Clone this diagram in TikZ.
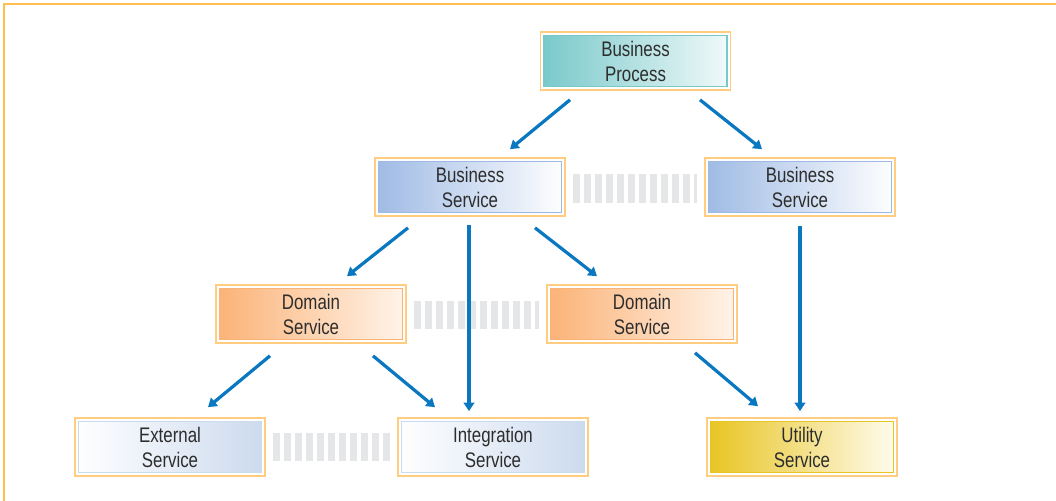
\documentclass[tikz,border=0pt]{standalone}
\usepackage{fontspec}
\setmainfont{Liberation Sans}[FakeStretch=0.8]
\usepackage{tikz}
\usetikzlibrary{arrows.meta, calc}

\definecolor{frameorange}{RGB}{255,190,80}
\definecolor{boxorange}{RGB}{255,204,128}
\definecolor{linkblue}{RGB}{10,120,192}
\definecolor{bargray}{RGB}{229,230,232}
\definecolor{txtgray}{RGB}{45,45,45}
\definecolor{procteal}{RGB}{120,200,202}
\definecolor{proclight}{RGB}{242,250,250}
\definecolor{busblue}{RGB}{158,186,228}
\definecolor{domorange}{RGB}{251,178,118}
\definecolor{domlight}{RGB}{255,244,234}
\definecolor{extblue}{RGB}{204,218,238}
\definecolor{utilyellow}{RGB}{232,196,32}
\definecolor{utillight}{RGB}{255,252,240}

\tikzset{
  svc/.style n args={3}{draw=boxorange, line width=1.2pt, fill=white,
    minimum width=47.5mm, minimum height=14.5mm, inner sep=0pt,
    align=center, text=txtgray, font=\fontsize{15}{17.8}\selectfont,
    path picture={\shadedraw[draw=#1, line width=1pt, left color=#2, right color=#3]
      ([xshift=2.6pt,yshift=-2.6pt]path picture bounding box.north west) rectangle
      ([xshift=-2.6pt,yshift=2.6pt]path picture bounding box.south east);}},
  link/.style={draw=linkblue, line width=2.3pt, -{Triangle[length=6pt,width=7.5pt]}},
  peer/.style={draw=bargray, line width=20.6pt, dash pattern=on 5pt off 2.8pt,
    shorten <=5pt, shorten >=5pt}
}

\begin{document}
\begin{tikzpicture}[x=0.25mm, y=-0.25mm]
  \useasboundingbox (0,0) rectangle (1056,501);
  % Frame
  \draw[frameorange, line width=1.4pt] (1056,4) -- (4,4) -- (4,501);

  % Process
  \node[svc={procteal}{procteal}{proclight}] (proc) at (635.5,61) {Business\\Process};
  % Business services
  \node[svc={busblue}{busblue}{white}] (busl) at (470,187) {Business\\Service};
  \node[svc={busblue}{busblue}{white}] (busr) at (800,187) {Business\\Service};
  % Domain services
  \node[svc={domorange}{domorange}{domlight}] (doml) at (311,314) {Domain\\Service};
  \node[svc={domorange}{domorange}{domlight}] (domr) at (642,314) {Domain\\Service};
  % Lower services
  \node[svc={extblue}{white}{extblue}] (ext) at (170,447) {External\\Service};
  \node[svc={extblue}{white}{extblue}] (integ) at (493,447) {Integration\\Service};
  \node[svc={utilyellow}{utilyellow}{utillight}] (util) at (802,447) {Utility\\Service};

  % Peer links
  \draw[peer] ($(busl.east)+(0,1.5)$) -- ($(busr.west)+(0,1.5)$);
  \draw[peer] ($(doml.east)+(0,1)$) -- ($(domr.west)+(0,1)$);
  \draw[peer] ($(ext.east)+(0,0)$) -- ($(integ.west)+(0,0)$);

  % Arrows
  \draw[link] ($(proc.south)+(-65.5,9)$) -- ($(busl.north)+(40,-8)$);
  \draw[link] ($(proc.south)+(64.5,9)$) -- ($(busr.north)+(-38,-8)$);
  \draw[link] ($(busl.south)+(-62,11)$) -- ($(doml.north)+(36,-8)$);
  \draw[link] ($(busl.south)+(-1,8)$) -- ($(integ.north)+(-24,-6)$);
  \draw[link] ($(busl.south)+(65,11)$) -- ($(domr.north)+(-45,-8)$);
  \draw[link] ($(busr.south)+(0,9)$) -- ($(util.north)+(-2,-6)$);
  \draw[link] ($(doml.south)+(-41,12)$) -- ($(ext.north)+(38,-10)$);
  \draw[link] ($(doml.south)+(62,12)$) -- ($(integ.north)+(-58,-10)$);
  \draw[link] ($(domr.south)+(53,9)$) -- ($(util.north)+(-44,-11)$);
\end{tikzpicture}
\end{document}
